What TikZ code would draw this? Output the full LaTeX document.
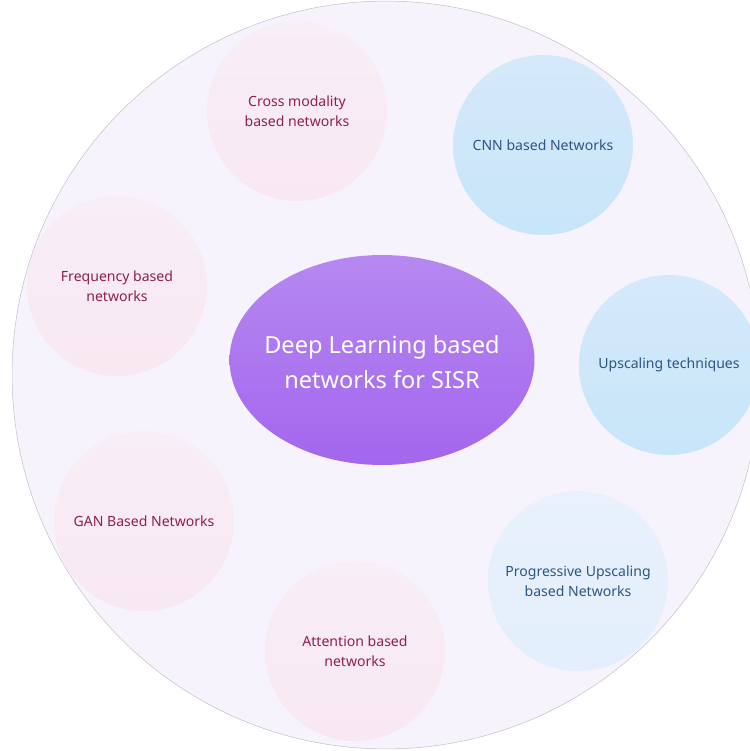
\documentclass[tikz,border=0pt]{standalone}
\usepackage{fontspec}
\setmainfont{Noto Sans}
\usepackage{xcolor}

\definecolor{ringfill}{HTML}{F7F3FD}
\definecolor{ringline}{HTML}{C4C2CC}
\definecolor{pinktop}{HTML}{F8EEF6}
\definecolor{pinkbot}{HTML}{F8E8F1}
\definecolor{pinktext}{HTML}{8E1F52}
\definecolor{bluetop}{HTML}{D5E9FA}
\definecolor{bluebot}{HTML}{C8E5F9}
\definecolor{paletop}{HTML}{E8F1FC}
\definecolor{palebot}{HTML}{E3EFFC}
\definecolor{bluetext}{HTML}{2B5683}
\definecolor{purptop}{HTML}{B688F0}
\definecolor{purpbot}{HTML}{A366EE}

\begin{document}
\begin{tikzpicture}[x=0.02cm, y=-0.02cm,
    bubble/.style={circle, minimum size=3.6cm, inner sep=0pt, align=center,
        font=\fontsize{8}{11.3}\selectfont},
    pinkbub/.style={bubble, top color=pinktop, bottom color=pinkbot, text=pinktext},
    bluebub/.style={bubble, top color=bluetop, bottom color=bluebot, text=bluetext},
    palebub/.style={bubble, top color=paletop, bottom color=palebot, text=bluetext},
    hubtext/.style={text=white, align=center, font=\fontsize{13.4}{19.8}\selectfont}]

    % Page frame
    \useasboundingbox (0,0) rectangle (750,751);
    \clip (0,0) rectangle (750,751);

    % Outer ring
    \draw[ringline, line width=0.3pt, fill=ringfill] (386,375) circle (7.48cm);

    % Centre
    \shade[top color=purptop, bottom color=purpbot] (382,360) ellipse (3.05cm and 2.1cm);
    \node[hubtext] (core) at (382,362) {Deep Learning based\\networks for SISR};

    % Pink family
    \node[pinkbub] (cross) at (297,111) {Cross modality\\based networks};
    \node[pinkbub] (freq) at (117,286) {Frequency based\\networks};
    \node[pinkbub] (gan) at (144,521) {GAN Based Networks};
    \node[pinkbub] (attn) at (355,651) {Attention based\\networks};

    % Blue family
    \node[bluebub] (cnn) at (543,145) {CNN based Networks};
    \node[bluebub] (upscale) at (669,365) {Upscaling techniques};
    \node[palebub] (progup) at (578,581) {Progressive Upscaling\\based Networks};
\end{tikzpicture}
\end{document}
